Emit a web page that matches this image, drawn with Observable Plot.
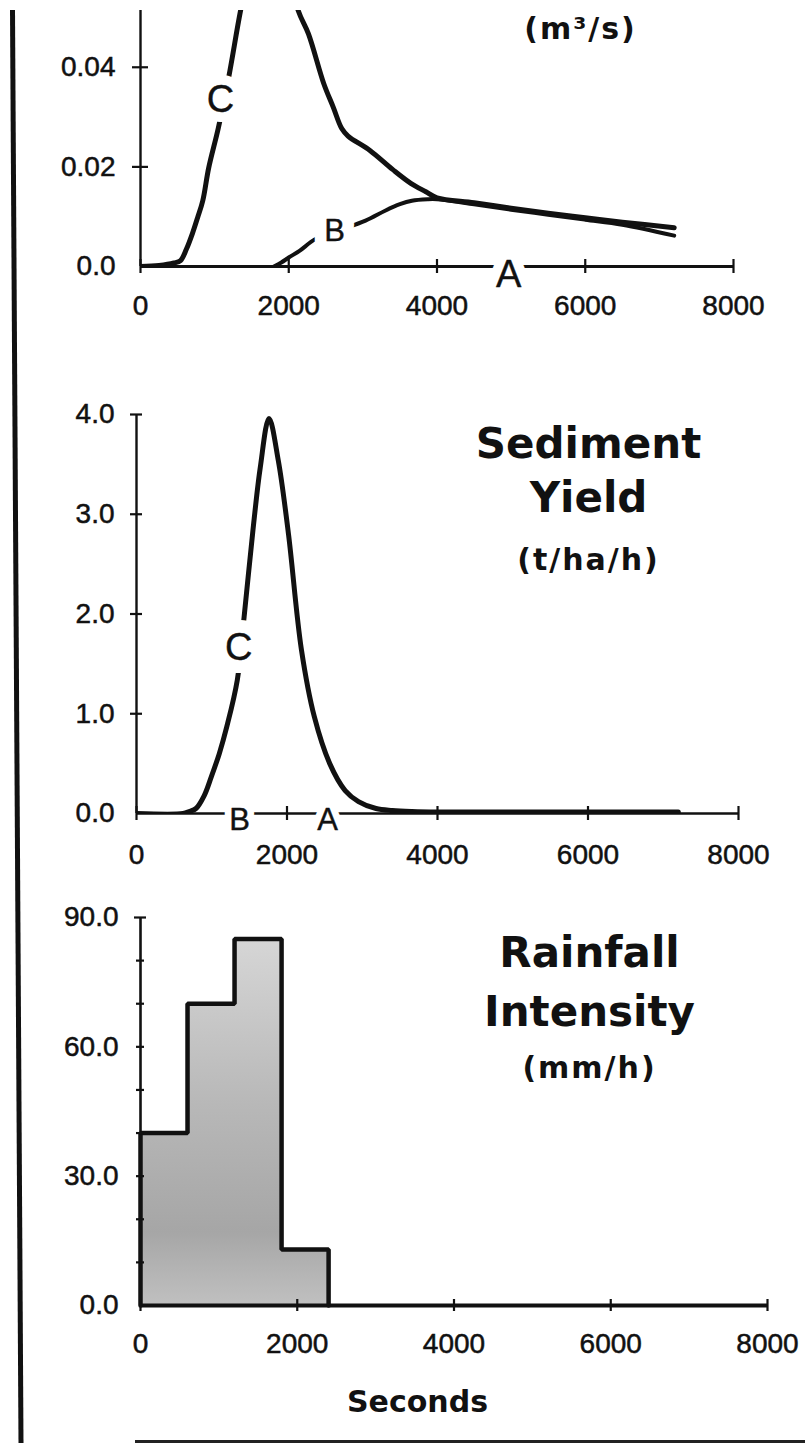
<!DOCTYPE html>
<html>
<head>
<meta charset="utf-8">
<script src="https://cdn.jsdelivr.net/npm/d3@7"></script>
<script src="https://cdn.jsdelivr.net/npm/@observablehq/plot@0.6"></script>
<style>
  body { margin: 0; background: #fff; }
  #page { position: relative; width: 805px; height: 1443px; overflow: hidden; background: #fff; }
  .panel { position: absolute; left: 0; }
  .ttl text { letter-spacing: 2px; }
  #frame { position: absolute; left: 0; top: 0; pointer-events: none; }
  g[aria-label$="tick label"] text { stroke: #111; stroke-width: 0.5px; }
</style>
</head>
<body>
<div id="page"></div>
<script>
// ---------- shared x axis ----------
const xTicks = [0, 2000, 4000, 6000, 8000];
const xTickLabels = ["0", "2000", "4000", "6000", "8000"];

// ---------- Discharge (m3/s) ----------
const dischargeCTime  = [0, 250, 450, 540, 620, 700, 770, 840, 920, 1050, 1190, 1350, 1500, 1650, 1800, 1950, 2130, 2266, 2473, 2600, 2715, 2800, 3095, 3400, 3647, 3850, 4000, 4500, 5000, 5500, 6000, 6500, 7200];
const dischargeCValue = [0, 0.0002, 0.0007, 0.0012, 0.0035, 0.0066, 0.0098, 0.0132, 0.0198, 0.0278, 0.038, 0.0514, 0.062, 0.068, 0.069, 0.062, 0.0513, 0.0467, 0.0367, 0.032, 0.0277, 0.0262, 0.0233, 0.0195, 0.0167, 0.015, 0.0138, 0.0128, 0.0117, 0.0107, 0.0098, 0.0089, 0.0078];
const dischargeBTime  = [1800, 1900, 2000, 2150, 2350, 2650, 3036, 3300, 3500, 3660, 3873, 4000, 4500, 5000, 5500, 6000, 6500, 7200];
const dischargeBValue = [0, 0.0008, 0.0018, 0.0032, 0.0054, 0.0071, 0.0092, 0.0112, 0.0125, 0.0132, 0.0135, 0.0135, 0.0125, 0.0114, 0.0104, 0.0094, 0.0084, 0.0062];
const dischargeYTicks = [0, 0.02, 0.04];
const dischargeYTickLabels = ["0.0", "0.02", "0.04"];
const dischargeLabelText = ["C", "A"];
const dischargeLabelX    = [1080, 4966];
const dischargeLabelY    = [0.0334, -0.0016];
const dischargeSmallLabelText = ["B"];
const dischargeSmallLabelX    = [2620];
const dischargeSmallLabelY    = [0.0071];
const dischargeYMax = 0.0514;

// ---------- Sediment yield (t/ha/h) ----------
const sedimentCTime  = [0, 619, 700, 790, 900, 995, 1100, 1200, 1340, 1430, 1542, 1645, 1761, 1884, 2020, 2192, 2363, 2568, 2773, 2950, 3183, 3400, 3661, 4000, 5000, 6000, 7200];
const sedimentCValue = [0, 0, 0.02, 0.05, 0.18, 0.37, 0.6, 0.87, 1.34, 1.97, 2.8, 3.47, 3.96, 3.54, 2.8, 1.64, 0.97, 0.5, 0.23, 0.12, 0.05, 0.03, 0.02, 0.015, 0.015, 0.015, 0.015];
const sedimentYTicks = [0, 1, 2, 3, 4];
const sedimentYTickLabels = ["0.0", "1.0", "2.0", "3.0", "4.0"];
const sedimentBigLabelText = ["C"];
const sedimentBigLabelX    = [1360];
const sedimentBigLabelY    = [1.66];
const sedimentSmallLabelText = ["B", "A"];
const sedimentSmallLabelX    = [1369, 2538];
const sedimentSmallLabelY    = [-0.07, -0.07];

// ---------- Rainfall intensity (mm/h) ----------
const rainStart     = [0, 600, 1200, 1800];
const rainEnd       = [600, 1200, 1800, 2400];
const rainIntensity = [40, 70, 85, 13];
const rainYTicks = [0, 30, 60, 90];
const rainYTickLabels = ["0.0", "30.0", "60.0", "90.0"];
const rainMinorTicks = [10, 20, 30, 40, 50, 60, 70, 80];

// ---------- helpers ----------
const zip = (xs, ys) => xs.map((x, i) => ({x, y: ys[i]}));
const labelRows = (t, xs, ys) => t.map((s, i) => ({label: s, x: xs[i], y: ys[i]}));
const fmtFrom = (ticks, labels) => (d) => labels[ticks.indexOf(d)];

function crossX(values, half) {
  return Plot.ruleX(values, {x: (d) => d, y1: 0, y2: 0, insetTop: -half, insetBottom: -half, stroke: "#111", strokeWidth: 2.2});
}
function crossY(values, half) {
  return Plot.ruleY(values, {y: (d) => d, x1: 0, x2: 0, insetLeft: -half, insetRight: -half, stroke: "#111", strokeWidth: 2.2});
}
function curveLabels(rows, size, halo) {
  const base = {x: "x", y: "y", text: "label", fontSize: size, fontFamily: "Liberation Sans", textAnchor: "middle", lineAnchor: "middle"};
  return [
    Plot.text(rows, {...base, fill: "white", stroke: "white", strokeWidth: halo, strokeLinejoin: "round"}),
    Plot.text(rows, {...base, fill: "#111", stroke: "#111", strokeWidth: 0.4})
  ];
}
function title(txt, size, dx, dy, cls) {
  return Plot.text([txt], {frameAnchor: "top", dx, dy, fontSize: size, fontWeight: "bold", fontFamily: "DejaVu Sans", fill: "#111", textAnchor: "middle", lineAnchor: "middle", className: cls});
}
const baseStyle = {fontFamily: "Liberation Sans", fontSize: "28px", background: "transparent", color: "#111"};

const page = document.getElementById("page");
function place(svg, top) {
  const wrap = document.createElement("div");
  wrap.className = "panel";
  wrap.style.top = top + "px";
  wrap.appendChild(svg);
  page.appendChild(wrap);
}

// ---------- Panel 1: Discharge ----------
const p1 = Plot.plot({
  width: 805, height: 330,
  marginLeft: 140, marginRight: 72, marginTop: 10, marginBottom: 64,
  style: baseStyle,
  x: {domain: [0, 8000]},
  y: {domain: [0, dischargeYMax]},
  marks: [
    Plot.ruleY([0], {stroke: "#111", strokeWidth: 2.8}),
    Plot.ruleX([0], {stroke: "#111", strokeWidth: 2.4}),
    crossX(xTicks, 7),
    crossY(dischargeYTicks.slice(1), 8),
    Plot.axisX({ticks: xTicks, tickFormat: fmtFrom(xTicks, xTickLabels), tickSize: 0, tickPadding: 29, label: null}),
    Plot.axisY({ticks: dischargeYTicks, tickFormat: fmtFrom(dischargeYTicks, dischargeYTickLabels), tickSize: 0, tickPadding: 25, label: null}),
    Plot.line(zip(dischargeBTime, dischargeBValue), {x: "x", y: "y", stroke: "#111", strokeWidth: 4, curve: "catmull-rom", clip: true}),
    Plot.line(zip(dischargeCTime, dischargeCValue), {x: "x", y: "y", stroke: "#111", strokeWidth: 5, curve: "catmull-rom", clip: true}),
    ...curveLabels(labelRows(dischargeLabelText, dischargeLabelX, dischargeLabelY), 38, 20),
    ...curveLabels(labelRows(dischargeSmallLabelText, dischargeSmallLabelX, dischargeSmallLabelY), 31, 24),
    title("(m³/s)", 30, 143.5, 18.5, "ttl")
  ]
});
place(p1, 0);

// ---------- Panel 2: Sediment yield ----------
const p2 = Plot.plot({
  width: 805, height: 550,
  marginLeft: 136, marginRight: 67, marginTop: 84, marginBottom: 67,
  style: baseStyle,
  x: {domain: [0, 8000]},
  y: {domain: [0, 4]},
  marks: [
    Plot.ruleY([0], {stroke: "#111", strokeWidth: 2.6}),
    Plot.ruleX([0], {stroke: "#111", strokeWidth: 2.4}),
    crossX(xTicks, 7),
    crossY(sedimentYTicks.slice(1), 6),
    Plot.axisX({ticks: xTicks, tickFormat: fmtFrom(xTicks, xTickLabels), tickSize: 0, tickPadding: 31, label: null}),
    Plot.axisY({ticks: sedimentYTicks, tickFormat: fmtFrom(sedimentYTicks, sedimentYTickLabels), tickSize: 0, tickPadding: 22, label: null}),
    Plot.line(zip(sedimentCTime, sedimentCValue), {x: "x", y: "y", stroke: "#111", strokeWidth: 5, curve: "catmull-rom", clip: true}),
    ...curveLabels(labelRows(sedimentBigLabelText, sedimentBigLabelX, sedimentBigLabelY), 38, 26),
    ...curveLabels(labelRows(sedimentSmallLabelText, sedimentSmallLabelX, sedimentSmallLabelY), 31, 14),
    title("Sediment", 42, 151, 30),
    title("Yield", 42, 151, 84.5),
    title("(t/ha/h)", 30, 151, 146, "ttl")
  ]
});
place(p2, 330);

// ---------- Panel 3: Rainfall intensity ----------
const rainArea = rainStart.map((s, i) => ({x: s, y: rainIntensity[i]}))
  .concat([{x: rainEnd[rainEnd.length - 1], y: rainIntensity[rainIntensity.length - 1]}]);
const rainOutline = [{x: rainStart[0], y: 0}].concat(rainArea, [{x: rainEnd[rainEnd.length - 1], y: 0}]);

const p3 = Plot.plot({
  width: 805, height: 563,
  marginLeft: 140, marginRight: 38, marginTop: 37, marginBottom: 138,
  style: baseStyle,
  x: {domain: [0, 8000]},
  y: {domain: [0, 90]},
  marks: [
    Plot.areaY(rainArea, {x: "x", y: "y", curve: "step-after", fill: "url(#rainGrad)"}),
    Plot.ruleX([0], {stroke: "#111", strokeWidth: 2.6}),
    Plot.ruleY([0], {stroke: "#111", strokeWidth: 4}),
    Plot.line(rainOutline, {x: "x", y: "y", curve: "step-after", stroke: "#111", strokeWidth: 4.5, strokeLinejoin: "miter"}),
    crossX(xTicks, 6),
    crossY(rainMinorTicks, 4),
    crossY([90], 6),
    Plot.axisX({ticks: xTicks, tickFormat: fmtFrom(xTicks, xTickLabels), tickSize: 0, tickPadding: 28, label: null}),
    Plot.axisY({ticks: rainYTicks, tickFormat: fmtFrom(rainYTicks, rainYTickLabels), tickSize: 0, tickPadding: 22, label: null}),
    title("Rainfall", 42, 135.5, 36),
    title("Intensity", 42, 135.5, 95.5),
    title("(mm/h)", 30, 135.5, 151, "ttl"),
    Plot.text(["Seconds"], {frameAnchor: "bottom", dx: -36.5, dy: 97, fontSize: 30, fontWeight: "bold", fontFamily: "DejaVu Sans", fill: "#111", textAnchor: "middle", lineAnchor: "middle"})
  ]
});
// gradient for the stippled grey fill
d3.select(p3).insert("defs", ":first-child").html(
  '<linearGradient id="rainGrad" x1="0" y1="0" x2="0" y2="1">' +
  '<stop offset="0" stop-color="#d6d6d6"/>' +
  '<stop offset="0.45" stop-color="#b8b8b8"/>' +
  '<stop offset="0.8" stop-color="#a6a6a6"/>' +
  '<stop offset="1" stop-color="#c0c0c0"/>' +
  '</linearGradient>');
place(p3, 880);

// ---------- page frame (scan border) ----------
const frame = d3.select(page).append("svg").attr("id", "frame").attr("width", 805).attr("height", 1443);
frame.append("line").attr("x1", 12.5).attr("y1", 10).attr("x2", 21).attr("y2", 1443).attr("stroke", "#111").attr("stroke-width", 5);
frame.append("line").attr("x1", 135).attr("y1", 1441.5).attr("x2", 805).attr("y2", 1441.5).attr("stroke", "#222").attr("stroke-width", 3);
</script>
</body>
</html>
